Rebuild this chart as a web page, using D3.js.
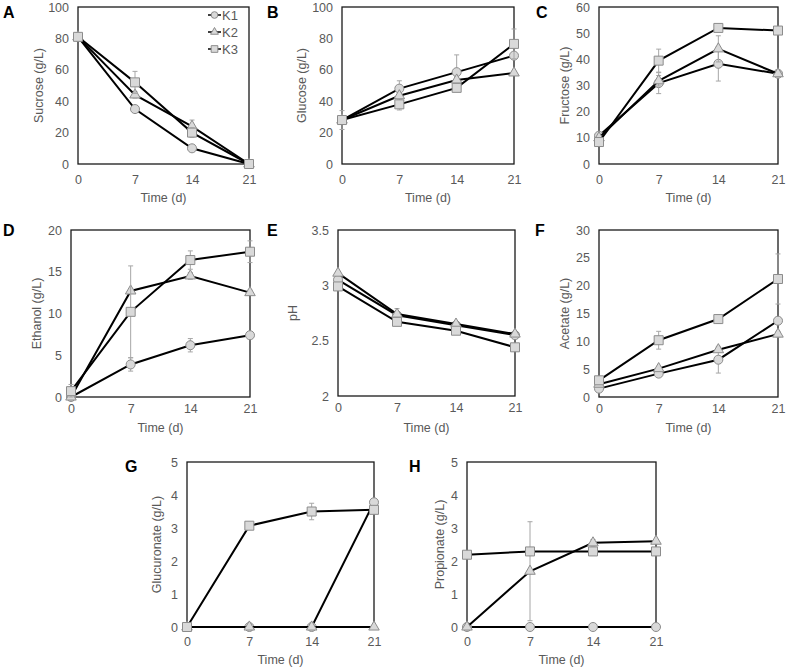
<!DOCTYPE html>
<html lang="en">
<head>
  <meta charset="UTF-8" />
  <title>Fermentation time course</title>
  <script src="https://d3js.org/d3.v7.min.js"></script>
  <style>
    body { margin: 0; background: #fff; }
    svg { display: block; font-family: "Liberation Sans", Arial, sans-serif; }
    .tick text { fill: #595959; font-size: 12.5px; }
    .axis-title { fill: #595959; font-size: 12.5px; }
    .panel-label { fill: #000; font-size: 16px; font-weight: bold; }
  </style>
</head>
<body>
  <svg width="787" height="670"></svg>

  <script>
    // time points and series names
    const days = [0, 7, 14, 21];
    const seriesNames = ["K1", "K2", "K3"];

    // values per series (K1, K2, K3)
    const sucrose = [[81, 35, 10, 0], [81, 44, 24, 0], [81, 52, 20, 0]];
    const sucroseErr = [[1, 1, 1, 0], [1, 2, 4, 0], [1, 7, 3, 0]];

    const glucose = [[28, 48, 58.5, 69], [28, 43.5, 53.5, 58], [28, 38, 48.5, 76.5]];
    const glucoseErr = [[1, 5, 11, 1], [1, 2, 2, 1], [6, 3.6, 1, 9.5]];

    const fructose = [[10.8, 30.9, 38.3, 34.5], [10, 31.8, 44, 34.5], [8.4, 39.5, 52, 51]];
    const fructoseErr = [[1, 4, 6.6, 1], [0.5, 2, 5, 1], [1, 4.4, 1, 1]];

    const ethanol = [[0, 3.9, 6.2, 7.4], [0, 12.7, 14.5, 12.5], [0.7, 10.2, 16.4, 17.4]];
    const ethanolErr = [[0, 0.8, 0.8, 0.3], [0, 0.3, 0.4, 0.3], [0.8, 5.5, 1.1, 1.3]];

    const ph = [[3.05, 2.73, 2.64, 2.55], [3.11, 2.74, 2.65, 2.56], [2.99, 2.67, 2.59, 2.44]];
    const phErr = [[0.01, 0.02, 0.01, 0.01], [0.01, 0.05, 0.01, 0.01], [0.01, 0.01, 0.01, 0.01]];

    const acetate = [[1.5, 4.2, 6.7, 13.7], [2.3, 5.1, 8.5, 11.3], [3.0, 10.2, 14.0, 21.2]];
    const acetateErr = [[0.3, 0.4, 2.4, 0.5], [0.3, 0.4, 0.4, 0.5], [0.3, 1.6, 0.8, 4.5]];

    const glucuronate = [[0, 0, 0, 3.78], [0, 0, 0, 0], [0, 3.07, 3.5, 3.55]];
    const glucuronateErr = [[0, 0, 0, 0.1], [0, 0, 0, 0], [0, 0.05, 0.25, 0.05]];

    const propionate = [[0, 0, 0, 0], [0, 1.69, 2.55, 2.6], [2.19, 2.29, 2.29, 2.29]];
    const propionateErr = [[0, 0, 0, 0], [0, 1.5, 0.1, 0.05], [0.03, 0.05, 0.05, 0.05]];

    const svg = d3.select("svg");

    const symbols = [d3.symbolCircle, d3.symbolTriangle, d3.symbolSquare];
    const symbolSizes = [64, 48, 81];

    // layout of the eight panels
    const panels = [
      { label: "A", title: "Sucrose (g/L)", data: sucrose, err: sucroseErr, y: [0, 100], step: 20,
        box: [78, 249, 7, 164], titleX: 39, tickPad: 11, xTitle: 38, lab: [3, 18], legend: true },
      { label: "B", title: "Glucose (g/L)", data: glucose, err: glucoseErr, y: [0, 100], step: 20,
        box: [342, 514, 7, 164], titleX: 302, tickPad: 11, xTitle: 38, lab: [267, 18] },
      { label: "C", title: "Fructose (g/L)", data: fructose, err: fructoseErr, y: [0, 60], step: 10,
        box: [599, 778, 7, 164], titleX: 565, tickPad: 11, xTitle: 38, lab: [536, 18] },
      { label: "D", title: "Ethanol (g/L)", data: ethanol, err: ethanolErr, y: [0, 20], step: 5,
        box: [71, 250, 230, 397], titleX: 37, tickPad: 7, xTitle: 35, lab: [3, 236] },
      { label: "E", title: "pH", data: ph, err: phErr, y: [2, 3.5], step: 0.5,
        box: [338, 515, 230, 396], titleX: 293, tickPad: 7, xTitle: 36, lab: [267, 236] },
      { label: "F", title: "Acetate (g/L)", data: acetate, err: acetateErr, y: [0, 30], step: 5,
        box: [599, 778, 230, 397], titleX: 565, tickPad: 7, xTitle: 35, lab: [535, 236] },
      { label: "G", title: "Glucuronate (g/L)", data: glucuronate, err: glucuronateErr, y: [0, 5], step: 1,
        box: [187, 374, 462, 627], titleX: 157, tickPad: 10, xTitle: 37, lab: [125, 472] },
      { label: "H", title: "Propionate (g/L)", data: propionate, err: propionateErr, y: [0, 5], step: 1,
        box: [467, 656, 462, 627], titleX: 440, tickPad: 10, xTitle: 37, lab: [409, 472] }
    ];

    panels.forEach(p => {
      const [x0, x1, y0, y1] = p.box;
      const x = d3.scaleLinear().domain([0, 21]).range([x0, x1]);
      const y = d3.scaleLinear().domain(p.y).range([y1, y0]);
      const g = svg.append("g");

      const yTicks = d3.range(p.y[0], p.y[1] + p.step / 2, p.step);

      g.append("g")
        .attr("transform", `translate(0,${y1})`)
        .call(d3.axisBottom(x).tickValues(days).tickSize(0).tickPadding(p.tickPad).tickFormat(d3.format("d")))
        .call(a => a.select(".domain").remove());

      g.append("g")
        .attr("transform", `translate(${x0},0)`)
        .call(d3.axisLeft(y).tickValues(yTicks).tickSize(0).tickPadding(9).tickFormat(d => String(+d.toFixed(1))))
        .call(a => a.select(".domain").remove());

      g.selectAll(".tick text").attr("font-family", null).attr("font-size", null);

      g.append("rect")
        .attr("x", x0).attr("y", y0)
        .attr("width", x1 - x0).attr("height", y1 - y0)
        .attr("fill", "none").attr("stroke", "#1a1a1a").attr("stroke-width", 1.3);

      g.append("text")
        .attr("class", "axis-title")
        .attr("x", (x0 + x1) / 2).attr("y", y1 + p.xTitle)
        .attr("text-anchor", "middle")
        .text("Time (d)");

      g.append("text")
        .attr("class", "axis-title")
        .attr("transform", `translate(${p.titleX},${(y0 + y1) / 2}) rotate(-90)`)
        .attr("text-anchor", "middle")
        .attr("dy", "0.35em")
        .text(p.title);

      g.append("text")
        .attr("class", "panel-label")
        .attr("x", p.lab[0]).attr("y", p.lab[1])
        .text(p.label);

      const line = d3.line().x((d, i) => x(days[i])).y(d => y(d));

      p.data.forEach((vals, s) => {
        const errs = p.err[s];
        const sg = g.append("g");

        // error bars
        vals.forEach((v, i) => {
          if (!errs[i]) return;
          const cx = x(days[i]);
          const lo = y(Math.max(p.y[0], v - errs[i]));
          const hi = y(v + errs[i]);
          sg.append("line")
            .attr("x1", cx).attr("x2", cx).attr("y1", lo).attr("y2", hi)
            .attr("stroke", "#a6a6a6").attr("stroke-width", 1);
          [lo, hi].forEach(yy => {
            sg.append("line")
              .attr("x1", cx - 2.5).attr("x2", cx + 2.5).attr("y1", yy).attr("y2", yy)
              .attr("stroke", "#a6a6a6").attr("stroke-width", 1);
          });
        });

        sg.append("path")
          .attr("d", line(vals))
          .attr("fill", "none")
          .attr("stroke", "#000")
          .attr("stroke-width", 2);

        sg.selectAll(".pt")
          .data(vals)
          .enter()
          .append("path")
          .attr("transform", (d, i) => `translate(${x(days[i])},${y(d)})`)
          .attr("d", d3.symbol().type(symbols[s]).size(symbolSizes[s]))
          .attr("fill", "#d9d9d9")
          .attr("stroke", "#8c8c8c")
          .attr("stroke-width", 1);
      });

      if (p.legend) {
        const lg = g.append("g");
        seriesNames.forEach((name, s) => {
          const ly = 15 + s * 17;
          lg.append("line")
            .attr("x1", 208).attr("x2", 221).attr("y1", ly).attr("y2", ly)
            .attr("stroke", "#000").attr("stroke-width", 1.5);
          lg.append("path")
            .attr("transform", `translate(214.5,${ly})`)
            .attr("d", d3.symbol().type(symbols[s]).size(symbolSizes[s] * 0.55))
            .attr("fill", "#d9d9d9")
            .attr("stroke", "#8c8c8c");
          lg.append("text")
            .attr("x", 222).attr("y", ly)
            .attr("dy", "0.35em")
            .attr("fill", "#595959")
            .attr("font-size", "13px")
            .text(name);
        });
      }
    });
  </script>
</body>
</html>
